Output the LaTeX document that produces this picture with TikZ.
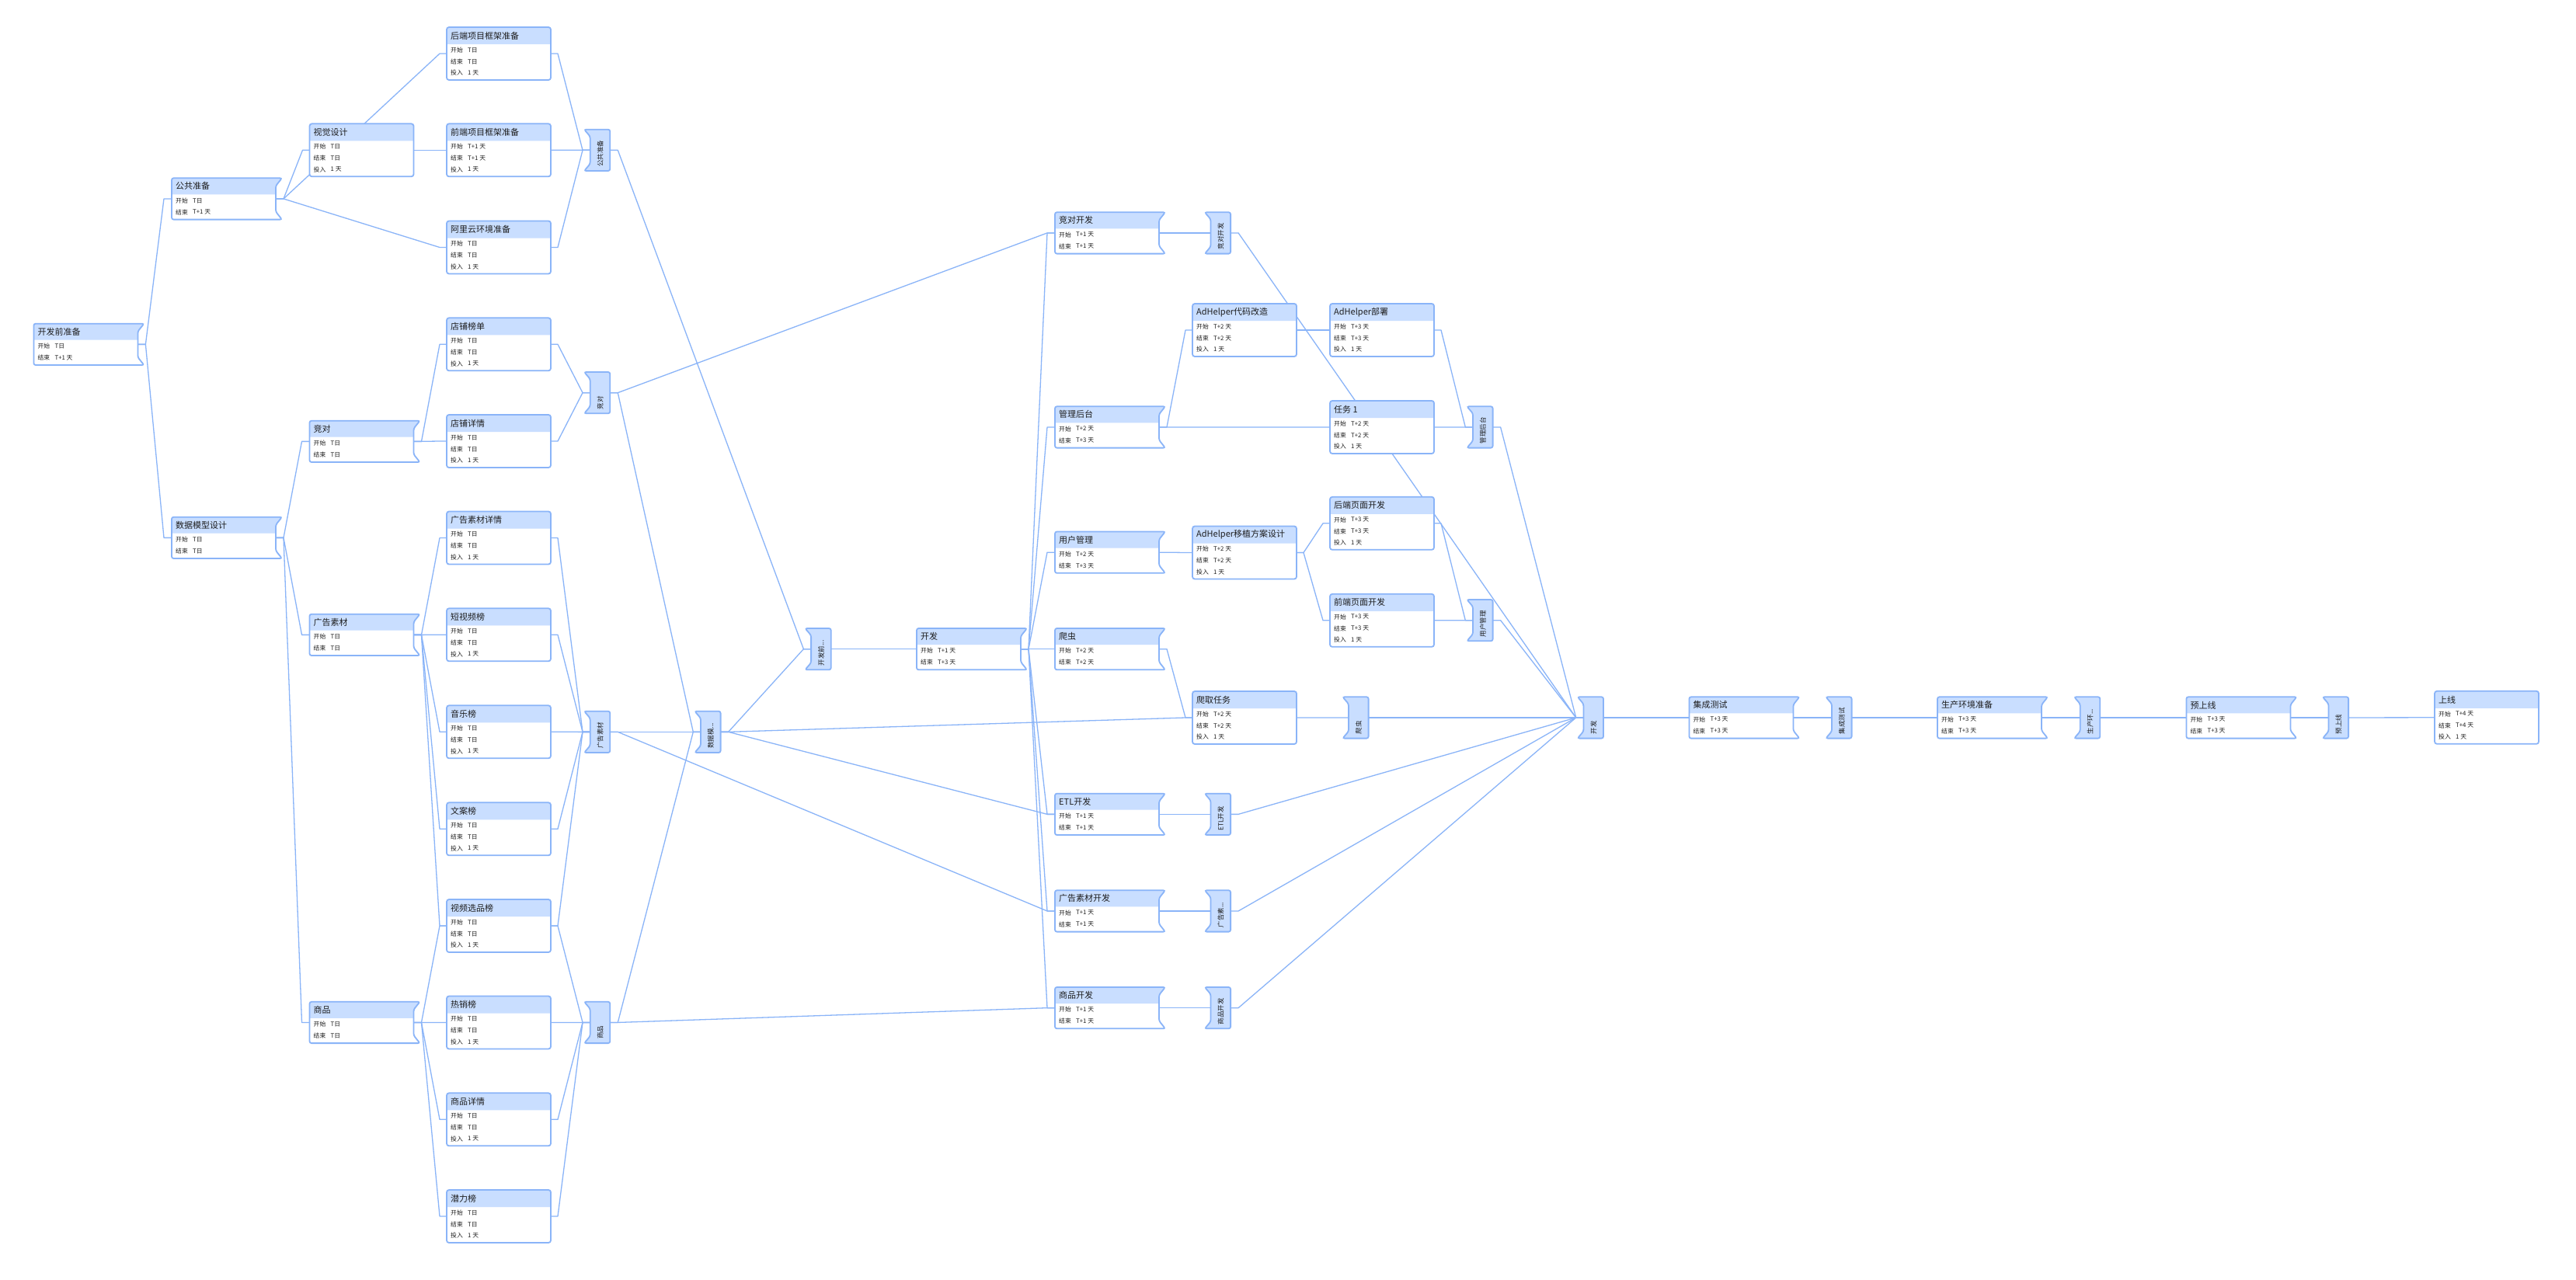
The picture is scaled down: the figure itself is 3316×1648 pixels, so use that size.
\documentclass[tikz,border=0pt]{standalone}
\usepackage{fontspec}
\setmainfont{Noto Sans CJK SC}
\usetikzlibrary{calc}
\pgfdeclarelayer{back}
\pgfdeclarelayer{bg}
\pgfsetlayers{back,bg,main}
\definecolor{bd}{RGB}{138,180,248}
\definecolor{hd}{RGB}{201,222,255}
\definecolor{lc}{RGB}{138,180,248}
\definecolor{tx}{RGB}{30,30,30}
\tikzset{
  boxnode/.style={rectangle, inner sep=0pt, outer sep=0pt, draw=none},
  boxfill/.style={fill=white, draw=bd, line width=1.8pt},
  ttl/.style={anchor=west, inner sep=0pt, text=tx, font=\fontsize{11}{13}\selectfont},
  rw/.style={anchor=west, inner sep=0pt, text=tx, font=\fontsize{7.8}{9}\selectfont},
  tg/.style={rotate=90, anchor=west, inner sep=0pt, text=tx, font=\fontsize{8.5}{10}\selectfont},
  conn/.style={draw=lc, line width=1.3pt, line join=round}
}
\newcommand\TaskBox[7]{%
\node[boxnode, minimum width=134pt, minimum height=68pt] (#1) at ({#2+67},{#3+34}) {};
\path[boxfill, rounded corners=3pt, path picture={\fill[hd] ($(#1.north west)+(-2,-2)$) rectangle ($(#1.north east)+(2,22)$);}] (#1.south west) rectangle (#1.north east);
\node[ttl] (#1-t) at ($(#1.north west)+(5,11)$) {#4};
\node[rw] (#1-a) at ($(#1.north west)+(5,29.5)$) {开始};
\node[rw] (#1-av) at ($(#1.north west)+(27,29.5)$) {#5};
\node[rw] (#1-b) at ($(#1.north west)+(5,44.5)$) {结束};
\node[rw] (#1-bv) at ($(#1.north west)+(27,44.5)$) {#6};
\node[rw] (#1-c) at ($(#1.north west)+(5,59)$) {投入};
\node[rw] (#1-cv) at ($(#1.north west)+(27,59)$) {#7};
\coordinate (#1-o) at ($(#1.east)+(9,0)$);
\coordinate (#1-i) at ($(#1.west)+(-9,0)$);
}
\newcommand\SumBox[6]{%
\node[boxnode, minimum width=134pt, minimum height=53.3pt] (#1) at ({#2+67},{#3+26.65}) {};
\path[boxfill, rounded corners=2.5pt, path picture={\fill[hd] ($(#1.north west)+(-3,-3)$) rectangle ($(#1.north east)+(10,21)$);}] (#1.north west) -- ($(#1.north east)+(8,0)$) -- ($(#1.north east)+(0,10)$) -- ($(#1.south east)+(0,-10)$) -- ($(#1.south east)+(8,0)$) -- (#1.south west) -- cycle;
\node[ttl] (#1-t) at ($(#1.north west)+(5,10.5)$) {#4};
\node[rw] (#1-a) at ($(#1.north west)+(5,29)$) {开始};
\node[rw] (#1-av) at ($(#1.north west)+(27,29)$) {#5};
\node[rw] (#1-b) at ($(#1.north west)+(5,44)$) {结束};
\node[rw] (#1-bv) at ($(#1.north west)+(27,44)$) {#6};
\coordinate (#1-o) at ($(#1.east)+(10,0)$);
\coordinate (#1-i) at ($(#1.west)+(-10,0)$);
}
\newcommand\TagBox[4]{%
\node[boxnode, minimum width=33.3pt, minimum height=53.3pt] (#1) at ({#2+16.65},{#3+26.65}) {};
\path[fill=hd, draw=bd, line width=1.8pt, rounded corners=2.5pt] (#1.north west) -- ($(#1.north west)+(7.7,9)$) -- ($(#1.south west)+(7.7,-9)$) -- (#1.south west) -- (#1.south east) -- (#1.north east) -- cycle;
\node[tg] (#1-t) at ($(#1.south)+(4,-5)$) {#4};
\coordinate (#1-o) at ($(#1.east)+(10,0)$);
\coordinate (#1-i) at ($(#1.west)+(-2,0)$);
}
\newcommand\Conn[2]{\draw[conn] (#1.center) -- (#1-o) -- (#2-i) -- (#2.center);}
\begin{document}
\begin{tikzpicture}[x=1pt,y=-1pt]
\begin{pgfonlayer}{back}
\fill[white] (0,0) rectangle (3316,1648);
\end{pgfonlayer}
\useasboundingbox (0,0) rectangle (3316,1648);
% column A/B/C
\SumBox{kfqzb}{43.4}{416.7}{开发前准备}{T日}{T+1 天}
\SumBox{ggzb}{221}{229.3}{公共准备}{T日}{T+1 天}
\SumBox{sjmx}{221}{665.7}{数据模型设计}{T日}{T日}
\TaskBox{sj}{398.5}{159.3}{视觉设计}{T日}{T日}{1 天}
\SumBox{jd}{398.5}{541.7}{竞对}{T日}{T日}
\SumBox{ggsc}{398.5}{790.7}{广告素材}{T日}{T日}
\SumBox{sp}{398.5}{1289.8}{商品}{T日}{T日}
% column D
\TaskBox{hd}{575}{35}{后端项目框架准备}{T日}{T日}{1 天}
\TaskBox{fe}{575}{159.3}{前端项目框架准备}{T+1 天}{T+1 天}{1 天}
\TaskBox{ali}{575}{284.5}{阿里云环境准备}{T日}{T日}{1 天}
\TaskBox{dpbd}{575}{409.3}{店铺榜单}{T日}{T日}{1 天}
\TaskBox{dpxq}{575}{534}{店铺详情}{T日}{T日}{1 天}
\TaskBox{ggxq}{575}{658.5}{广告素材详情}{T日}{T日}{1 天}
\TaskBox{dsp}{575}{783.3}{短视频榜}{T日}{T日}{1 天}
\TaskBox{yy}{575}{908.3}{音乐榜}{T日}{T日}{1 天}
\TaskBox{wa}{575}{1033.3}{文案榜}{T日}{T日}{1 天}
\TaskBox{spxp}{575}{1158}{视频选品榜}{T日}{T日}{1 天}
\TaskBox{rx}{575}{1282.5}{热销榜}{T日}{T日}{1 天}
\TaskBox{spxq}{575}{1407.3}{商品详情}{T日}{T日}{1 天}
\TaskBox{ql}{575}{1532}{潜力榜}{T日}{T日}{1 天}
% tags col E/F/G
\TagBox{tggzb}{752}{166.7}{公共准备}
\TagBox{tjd}{752}{479}{竞对}
\TagBox{tggsc}{752}{915.7}{广告素材}
\TagBox{tsp}{752}{1289.8}{商品}
\TagBox{tsjmx}{894.3}{915.7}{数据模...}
\TagBox{tkfq}{1036.4}{809}{开发前...}
% development
\SumBox{kf}{1180}{809}{开发}{T+1 天}{T+3 天}
\SumBox{jdkf}{1358}{273.3}{竞对开发}{T+1 天}{T+1 天}
\SumBox{glht}{1358}{523.3}{管理后台}{T+2 天}{T+3 天}
\SumBox{yhgl}{1358}{684.5}{用户管理}{T+2 天}{T+3 天}
\SumBox{pc}{1358}{809}{爬虫}{T+2 天}{T+2 天}
\SumBox{etl}{1358}{1021.7}{ETL开发}{T+1 天}{T+1 天}
\SumBox{ggsckf}{1358}{1146.3}{广告素材开发}{T+1 天}{T+1 天}
\SumBox{spkf}{1358}{1271}{商品开发}{T+1 天}{T+1 天}
\TagBox{tjdkf}{1550.8}{273.3}{竞对开发}
\TagBox{tetl}{1550.8}{1021.7}{ETL开发}
\TagBox{tggsckf}{1550.8}{1146.3}{广告素...}
\TagBox{tspkf}{1550.8}{1271}{商品开发}
\TaskBox{ad1}{1535}{391}{AdHelper代码改造}{T+2 天}{T+2 天}{1 天}
\TaskBox{adyz}{1535}{677.5}{AdHelper移植方案设计}{T+2 天}{T+2 天}{1 天}
\TaskBox{pqrw}{1535}{890}{爬取任务}{T+2 天}{T+2 天}{1 天}
\TaskBox{ad2}{1712}{391}{AdHelper部署}{T+3 天}{T+3 天}{1 天}
\TaskBox{rw1}{1712}{516}{任务 1}{T+2 天}{T+2 天}{1 天}
\TaskBox{hdym}{1712}{639.8}{后端页面开发}{T+3 天}{T+3 天}{1 天}
\TaskBox{qdym}{1712}{764.8}{前端页面开发}{T+3 天}{T+3 天}{1 天}
\TagBox{tglht}{1888.3}{523.3}{管理后台}
\TagBox{tyhgl}{1888.3}{772}{用户管理}
\TagBox{tpc}{1728.3}{897.3}{爬虫}
\TagBox{tkf}{2030.7}{897.3}{开发}
% final chain
\SumBox{jccs}{2174.4}{897.3}{集成测试}{T+3 天}{T+3 天}
\TagBox{tjccs}{2350.3}{897.3}{集成测试}
\SumBox{scjz}{2494}{897.3}{生产环境准备}{T+3 天}{T+3 天}
\TagBox{tscjz}{2670}{897.3}{生产环...}
\SumBox{ysx}{2814.4}{897.3}{预上线}{T+3 天}{T+3 天}
\TagBox{tysx}{2989.8}{897.3}{预上线}
\TaskBox{sx}{3134}{889.8}{上线}{T+4 天}{T+4 天}{1 天}
\begin{pgfonlayer}{bg}
\Conn{kfqzb}{ggzb}\Conn{kfqzb}{sjmx}
\Conn{ggzb}{sj}\Conn{ggzb}{hd}\Conn{ggzb}{ali}\Conn{sj}{fe}
\Conn{hd}{tggzb}\Conn{fe}{tggzb}\Conn{ali}{tggzb}
\Conn{sjmx}{jd}\Conn{sjmx}{ggsc}\Conn{sjmx}{sp}
\Conn{jd}{dpbd}\Conn{jd}{dpxq}\Conn{dpbd}{tjd}\Conn{dpxq}{tjd}
\Conn{ggsc}{ggxq}\Conn{ggsc}{dsp}\Conn{ggsc}{yy}\Conn{ggsc}{wa}\Conn{ggsc}{spxp}
\Conn{ggxq}{tggsc}\Conn{dsp}{tggsc}\Conn{yy}{tggsc}\Conn{wa}{tggsc}\Conn{spxp}{tggsc}
\Conn{sp}{spxp}\Conn{sp}{rx}\Conn{sp}{spxq}\Conn{sp}{ql}
\Conn{spxp}{tsp}\Conn{rx}{tsp}\Conn{spxq}{tsp}\Conn{ql}{tsp}
\Conn{tggzb}{tkfq}\Conn{tjd}{tsjmx}\Conn{tggsc}{tsjmx}\Conn{tsp}{tsjmx}\Conn{tsjmx}{tkfq}
\Conn{tkfq}{kf}
\Conn{tjd}{jdkf}\Conn{tsjmx}{pqrw}\Conn{tsjmx}{etl}\Conn{tggsc}{ggsckf}\Conn{tsp}{spkf}
\Conn{kf}{jdkf}\Conn{kf}{glht}\Conn{kf}{yhgl}\Conn{kf}{pc}\Conn{kf}{etl}\Conn{kf}{ggsckf}\Conn{kf}{spkf}
\Conn{jdkf}{tjdkf}\Conn{tjdkf}{tkf}
\Conn{glht}{ad1}\Conn{glht}{rw1}\Conn{ad1}{ad2}\Conn{ad2}{tglht}\Conn{rw1}{tglht}\Conn{tglht}{tkf}
\Conn{yhgl}{adyz}\Conn{adyz}{hdym}\Conn{adyz}{qdym}\Conn{hdym}{tyhgl}\Conn{qdym}{tyhgl}\Conn{tyhgl}{tkf}
\Conn{pc}{pqrw}\Conn{pqrw}{tpc}\Conn{tpc}{tkf}
\Conn{etl}{tetl}\Conn{tetl}{tkf}
\Conn{ggsckf}{tggsckf}\Conn{tggsckf}{tkf}
\Conn{spkf}{tspkf}\Conn{tspkf}{tkf}
\Conn{tkf}{jccs}\Conn{jccs}{tjccs}\Conn{tjccs}{scjz}\Conn{scjz}{tscjz}\Conn{tscjz}{ysx}\Conn{ysx}{tysx}\Conn{tysx}{sx}
\end{pgfonlayer}
\end{tikzpicture}
\end{document}
